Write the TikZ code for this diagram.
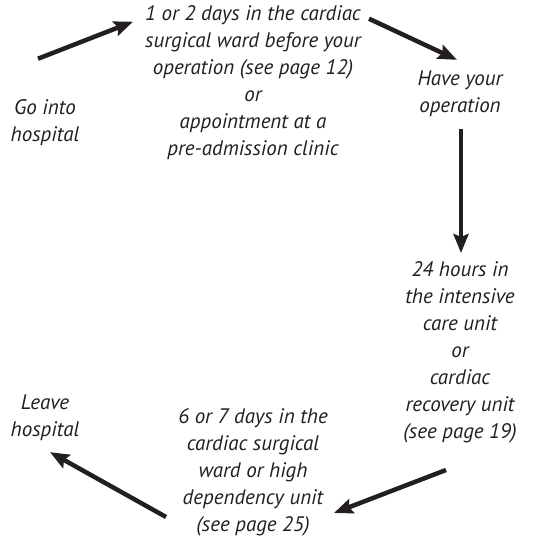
\documentclass[tikz,border=0pt]{standalone}
\usepackage{fontspec}
\setmainfont{PT Sans}
\usetikzlibrary{arrows.meta}
\definecolor{inkgrey}{HTML}{231F20}

\begin{document}
\begin{tikzpicture}[x=1pt, y=1pt,
    stage/.style={align=center, inner sep=0pt, text=inkgrey,
                  font=\fontsize{21}{27}\selectfont\itshape},
    flow/.style={draw=inkgrey, line width=4.5pt,
                 -{Stealth[length=19pt, width=15pt, inset=3pt]}}]
    % page frame
    \useasboundingbox (0,0) rectangle (551,-540);

    % stages of the stay
    \node[stage] (go)    at (45,-123)  {Go into\\hospital};
    \node[stage] (ward)  at (253,-83)  {1 or 2 days in the cardiac\\surgical ward before your\\operation (see page 12)\\or\\appointment at a\\pre-admission clinic};
    \node[stage] (op)    at (460,-94)  {Have your\\operation};
    \node[stage] (icu)   at (460,-352) {24 hours in\\the intensive\\care unit\\or\\cardiac\\recovery unit\\(see page 19)};
    \node[stage] (hdu)   at (253,-472) {6 or 7 days in the\\cardiac surgical\\ward or high\\dependency unit\\(see page 25)};
    \node[stage] (leave) at (45,-418)  {Leave\\hospital};

    % arrows round the circle
    \draw[flow] ([shift={(-7,41)}]go.north)    -- ([shift={(-12,-16)}]ward.north west);
    \draw[flow] ([shift={(8,-13)}]ward.north east) -- ([shift={(-3,11)}]op.north);
    \draw[flow] ([shift={(1,-12)}]op.south)    -- ([shift={(1,8)}]icu.north);
    \draw[flow] ([shift={(-14,-27)}]icu.south) -- ([shift={(6,-41)}]hdu.east);
    \draw[flow] ([shift={(-12,-45)}]hdu.west)  -- ([shift={(5,-11)}]leave.south);
\end{tikzpicture}
\end{document}
